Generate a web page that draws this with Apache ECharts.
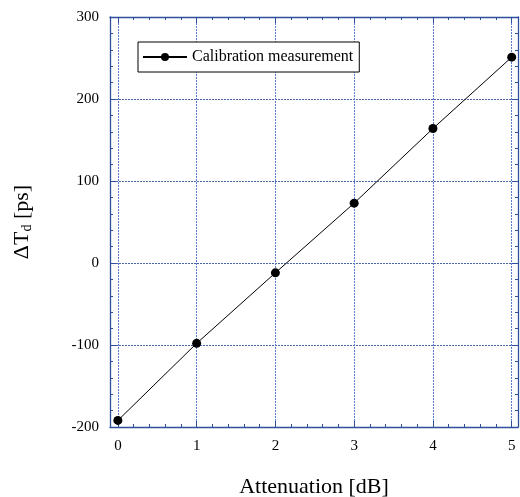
<!DOCTYPE html>
<html><head><meta charset="utf-8">
<script src="https://cdn.jsdelivr.net/npm/echarts@6/dist/echarts.min.js"></script>
<style>html,body{margin:0;padding:0;background:#fff}#c{width:520px;height:497px}</style>
</head><body><div id="c"></div>
<script>
const attenuation = [0, 1, 2, 3, 4, 5];
const deltaTd = [-192, -98, -12, 73, 164, 251];
const xTickLabels = [0, 1, 2, 3, 4, 5];
const xMinorTicks = [0.2,0.4,0.6,0.8,1.2,1.4,1.6,1.8,2.2,2.4,2.6,2.8,3.2,3.4,3.6,3.8,4.2,4.4,4.6,4.8];
const yTicks = [-200, -100, 0, 100, 200, 300];
const seriesName = 'Calibration measurement';

const FONT = '"Liberation Serif","DejaVu Serif",serif';
const AXIS = '#2d4f9c';
const chart = echarts.init(document.getElementById('c'));
const xBase = {type:'value', gridIndex:0, min:-0.1, max:5.08};
chart.setOption({
  animation:false,
  backgroundColor:'#fff',
  grid:{left:110, top:17, width:408, height:410, show:false, containLabel:false, outerBoundsMode:'none'},
  legend:{
    left:138, top:42, orient:'horizontal',
    backgroundColor:'#fff', borderColor:'#000', borderWidth:1, borderRadius:0,
    padding:[7,6,7,4], itemWidth:44, itemHeight:10, itemGap:0,
    textStyle:{fontFamily:FONT, fontSize:16, color:'#000'},
    data:[seriesName]
  },
  xAxis:[
    Object.assign({}, xBase, {
      position:'bottom',
      name:'Attenuation [dB]', nameLocation:'middle', nameGap:49,
      nameTextStyle:{fontFamily:FONT, fontSize:22, color:'#000'},
      axisLine:{show:true, onZero:false, lineStyle:{color:AXIS, width:1.3}},
      axisTick:{show:true, inside:true, length:6, customValues:xTickLabels, lineStyle:{color:AXIS}},
      axisLabel:{show:true, customValues:xTickLabels, margin:12, fontFamily:FONT, fontSize:15, color:'#000',
        formatter:v=>String(v)},
      splitLine:{show:true, lineStyle:{color:'#5a7bd0', type:[2,1], width:1}}
    }),
    Object.assign({}, xBase, {
      position:'bottom',
      axisLine:{show:false, onZero:false},
      axisTick:{show:true, inside:true, length:3, customValues:xMinorTicks, lineStyle:{color:AXIS}},
      axisLabel:{show:false}, splitLine:{show:false}
    }),
    Object.assign({}, xBase, {
      position:'top',
      axisLine:{show:true, onZero:false, lineStyle:{color:AXIS, width:1.3}},
      axisTick:{show:true, inside:true, length:6, customValues:xTickLabels, lineStyle:{color:AXIS}},
      axisLabel:{show:false}, splitLine:{show:false}
    }),
    Object.assign({}, xBase, {
      position:'top',
      axisLine:{show:false, onZero:false},
      axisTick:{show:true, inside:true, length:3, customValues:xMinorTicks, lineStyle:{color:AXIS}},
      axisLabel:{show:false}, splitLine:{show:false}
    })
  ],
  yAxis:[
    {
      type:'value', min:yTicks[0], max:yTicks[yTicks.length-1], interval:100, position:'left',
      name:'{a|ΔT}{b|d}{a| [ps]}', nameLocation:'middle', nameGap:76, nameRotate:90,
      nameTextStyle:{fontFamily:FONT, fontSize:22, color:'#000',
        rich:{a:{fontFamily:FONT, fontSize:22, color:'#000'}, b:{fontFamily:FONT, fontSize:14, color:'#000', padding:[9,0,0,0]}}},
      axisLine:{show:true, onZero:false, lineStyle:{color:AXIS, width:1.3}},
      axisTick:{show:true, inside:true, length:6, lineStyle:{color:AXIS}},
      minorTick:{show:true, splitNumber:5, length:3, lineStyle:{color:AXIS}},
      axisLabel:{margin:11, fontFamily:FONT, fontSize:15, color:'#000'},
      splitLine:{show:true, lineStyle:{color:'#4a64a8', type:[2,1], width:1}}
    },
    {
      type:'value', min:yTicks[0], max:yTicks[yTicks.length-1], interval:100, position:'right',
      axisLine:{show:true, onZero:false, lineStyle:{color:AXIS, width:1.3}},
      axisTick:{show:true, inside:true, length:6, lineStyle:{color:AXIS}},
      minorTick:{show:true, splitNumber:5, length:3, lineStyle:{color:AXIS}},
      axisLabel:{show:false}, splitLine:{show:false}
    }
  ],
  series:[{
    name:seriesName, type:'line', xAxisIndex:0, yAxisIndex:0,
    data:attenuation.map((x,i)=>[x, deltaTd[i]]),
    symbol:'circle', symbolSize:9, showSymbol:true,
    lineStyle:{color:'#000', width:1},
    itemStyle:{color:'#000'}
  }]
});
</script></body></html>
